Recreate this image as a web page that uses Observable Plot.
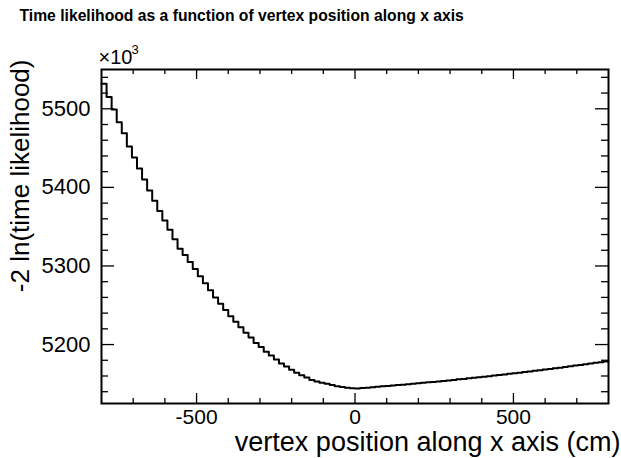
<!DOCTYPE html>
<html><head><meta charset="utf-8">
<script src="https://cdn.jsdelivr.net/npm/d3@7"></script>
<script src="https://cdn.jsdelivr.net/npm/@observablehq/plot@0.6"></script>
<style>html,body{margin:0;padding:0;background:#fff}</style>
</head><body><div id="chart"></div>
<script>
// Histogram: 100 bins from -800 to 800 (width 16), values in units of 10^3
const binStart = -800;
const binWidth = 16;
const values = [
  5532, 5515, 5499, 5483, 5469, 5452, 5438, 5424, 5410, 5396,
  5383, 5370, 5358, 5346, 5334, 5322, 5314, 5305, 5296, 5287,
  5278, 5269, 5260, 5252, 5244, 5236, 5229, 5222, 5215, 5209,
  5202, 5197, 5191, 5186, 5181, 5176, 5172, 5168, 5164, 5161,
  5158, 5155, 5153, 5151.5, 5150, 5148.5, 5147, 5146, 5145, 5144.3,
  5144.0, 5144.7, 5145.2, 5145.7, 5146.3, 5146.8, 5147.3, 5147.9, 5148.4, 5149.0,
  5149.5, 5150.1, 5150.7, 5151.3, 5151.9, 5152.5, 5153.1, 5153.7, 5154.4, 5155.0,
  5155.7, 5156.3, 5157.0, 5157.7, 5158.4, 5159.1, 5159.8, 5160.5, 5161.2, 5162.0,
  5162.7, 5163.5, 5164.2, 5165.0, 5165.8, 5166.6, 5167.4, 5168.2, 5169.0, 5169.8,
  5170.6, 5171.5, 5172.3, 5173.2, 5174.0, 5174.9, 5175.8, 5176.7, 5177.6, 5178.5
];
const xDomain = [-800, 800];
const yDomain = [5125, 5550];
const xMajor = [-500, 0, 500];
const xMinor = [-700, -600, -400, -300, -200, -100, 100, 200, 300, 400, 600, 700];
const yMajor = [5200, 5300, 5400, 5500];
const yMinor = [5140, 5160, 5180, 5220, 5240, 5260, 5280, 5320, 5340, 5360, 5380, 5420, 5440, 5460, 5480, 5520, 5540];
const title = "Time likelihood as a function of vertex position along x axis";
const xTitle = "vertex position along x axis (cm)";
const yTitle = "-2 ln(time likelihood)";

const pts = values.map((v, i) => ({x: binStart + i * binWidth, y: v}));
pts.push({x: binStart + values.length * binWidth, y: values[values.length - 1]});

const W = 621, H = 458, mL = 101, mR = 13, mT = 69, mB = 55;
const fw = W - mL - mR, fh = H - mT - mB;
const font = "'Liberation Sans', Arial, Helvetica, sans-serif";

const chart = Plot.plot({
  width: W, height: H,
  marginLeft: mL, marginRight: mR, marginTop: mT, marginBottom: mB,
  x: {domain: xDomain},
  y: {domain: yDomain},
  style: {fontFamily: font, background: "#fff", color: "#000", overflow: "visible"},
  marks: [
    Plot.line(pts, {x: "x", y: "y", curve: "step-after", stroke: "#000", strokeWidth: 2}),
    // x ticks (bottom and top, inward)
    Plot.ruleX(xMajor, {insetTop: fh - 10, stroke: "#000", strokeWidth: 1.3}),
    Plot.ruleX(xMinor, {insetTop: fh - 5, stroke: "#000", strokeWidth: 1.3}),
    Plot.ruleX(xMajor, {insetBottom: fh - 10, stroke: "#000", strokeWidth: 1.3}),
    Plot.ruleX(xMinor, {insetBottom: fh - 5, stroke: "#000", strokeWidth: 1.3}),
    // y ticks (left and right, inward)
    Plot.ruleY(yMajor, {insetRight: fw - 13, stroke: "#000", strokeWidth: 1.3}),
    Plot.ruleY(yMinor, {insetRight: fw - 7, stroke: "#000", strokeWidth: 1.3}),
    Plot.ruleY(yMajor, {insetLeft: fw - 13, stroke: "#000", strokeWidth: 1.3}),
    Plot.ruleY(yMinor, {insetLeft: fw - 7, stroke: "#000", strokeWidth: 1.3}),
    Plot.frame({stroke: "#000", strokeWidth: 2}),
    Plot.axisX({ticks: xMajor, tickSize: 0, tickPadding: 6, fontSize: 21, label: null, tickFormat: d => String(d)}),
    Plot.axisY({ticks: yMajor, tickSize: 0, tickPadding: 11, fontSize: 22, label: null, tickFormat: d => String(d)}),
    Plot.text([title], {frameAnchor: "top-left", dx: -82, dy: -49, text: d => d, textAnchor: "start", lineAnchor: "bottom", fontSize: 15.7, fontWeight: "bold"}),
    Plot.text(["×10"], {frameAnchor: "top-left", dx: -3, dy: -6, text: d => d, textAnchor: "start", lineAnchor: "bottom", fontSize: 20}),
    Plot.text(["3"], {frameAnchor: "top-left", dx: 30, dy: -16, text: d => d, textAnchor: "start", lineAnchor: "bottom", fontSize: 13}),
    Plot.text([yTitle], {frameAnchor: "top-left", dx: -81, dy: -10, rotate: -90, text: d => d, textAnchor: "end", lineAnchor: "middle", fontSize: 26}),
    Plot.text([xTitle], {frameAnchor: "bottom-right", dx: 12, dy: 47, text: d => d, textAnchor: "end", lineAnchor: "bottom", fontSize: 27})
  ]
});
document.getElementById("chart").appendChild(chart);
</script>
</body></html>
